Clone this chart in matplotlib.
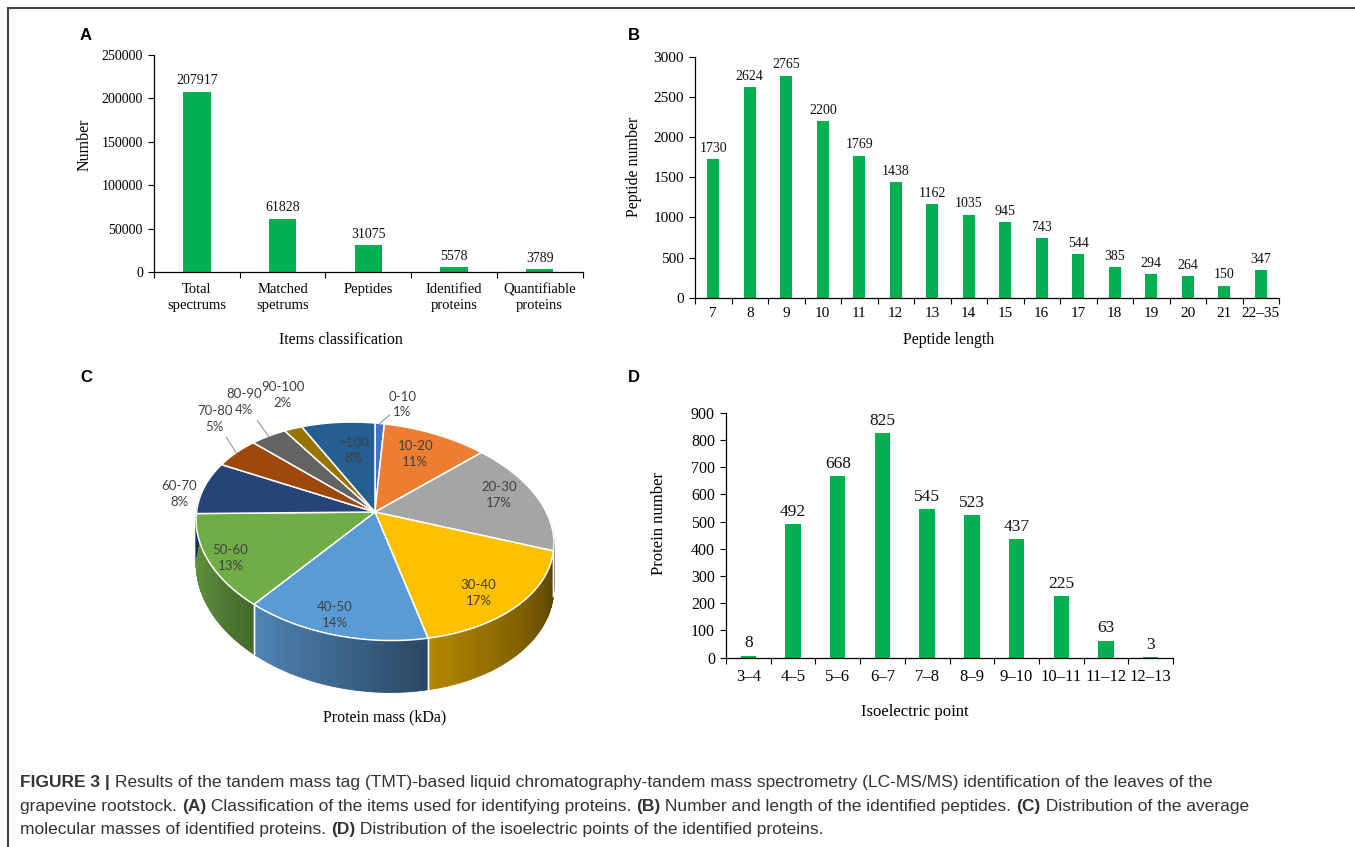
import numpy as np
import matplotlib
matplotlib.use('Agg')
import matplotlib.pyplot as plt
from matplotlib.patches import Polygon
import matplotlib.colors as mcolors

W, H = 1355, 847

# ---- data ----
# A: items used for identifying proteins
items = ['Total\nspectrums', 'Matched\nspetrums', 'Peptides', 'Identified\nproteins', 'Quantifiable\nproteins']
item_counts = [207917, 61828, 31075, 5578, 3789]

# B: peptide length distribution
pep_lengths = ['7', '8', '9', '10', '11', '12', '13', '14', '15', '16', '17', '18', '19', '20', '21', '22–35']
pep_counts = [1730, 2624, 2765, 2200, 1769, 1438, 1162, 1035, 945, 743, 544, 385, 294, 264, 150, 347]

# C: protein mass (kDa) distribution, percent
mass_bins = ['0-10', '10-20', '20-30', '30-40', '40-50', '50-60', '60-70', '70-80', '80-90', '90-100', '>100']
mass_pct = [1, 11, 17, 17, 14, 13, 8, 5, 4, 2, 8]

# D: isoelectric point distribution
pi_bins = ['3–4', '4–5', '5–6', '6–7', '7–8', '8–9', '9–10', '10–11', '11–12', '12–13']
pi_counts = [8, 492, 668, 825, 545, 523, 437, 225, 63, 3]

# ---- style ----
GREEN = '#00B050'
SERIF = ['Liberation Serif', 'DejaVu Serif']
SANS = ['Liberation Sans', 'DejaVu Sans']
pie_colors = ['#4472C4', '#ED7D31', '#A5A5A5', '#FFC000', '#5B9BD5', '#70AD47',
              '#264478', '#9E480E', '#636363', '#997300', '#255E91']
label_r = [1.3, 0.7, 0.78, 0.82, 0.87, 0.89, 1.12, 1.38, 1.45, 1.43, 0.65]
label_dang = [-6.6, 2, 3, -5.5, -2, 2, 5, -9.4, -5, -5.7, -2.5]
leader = [True, False, False, False, False, False, False, True, True, False, False]

plt.rcParams['font.family'] = SERIF

fig = plt.figure(figsize=(W / 100, H / 100), dpi=100)
bg = fig.add_axes([0, 0, 1, 1])
bg.set_xlim(0, W)
bg.set_ylim(H, 0)
bg.axis('off')


def bar_panel(box, cats, vals, ymax, ystep, xlabel, ylabel, xlab_pos, ylab_pos,
              width, tick_fs, cat_fs, val_fs, lab_fs, cat_pad):
    left, top, right, bottom = box
    ax = fig.add_axes([left / W, 1 - bottom / H, (right - left) / W, (bottom - top) / H])
    ax.patch.set_visible(False)
    pos = np.arange(len(cats))
    ax.bar(pos, vals, width=width, color=GREEN, zorder=2)
    for p, v in zip(pos, vals):
        ax.annotate(str(v), (p, v), xytext=(0, 3), textcoords='offset points',
                    ha='center', va='bottom', fontsize=val_fs, color='#111111')
    ax.set_xlim(-0.5, len(cats) - 0.5)
    ax.set_ylim(0, ymax)
    ax.set_yticks(np.arange(0, ymax + 1, ystep))
    ax.set_xticks(np.arange(len(cats) + 1) - 0.5)
    ax.set_xticklabels([])
    ax.set_xticks(pos, minor=True)
    ax.set_xticklabels(cats, minor=True, fontsize=cat_fs, linespacing=1.25)
    ax.tick_params(axis='x', which='major', length=4, width=0.8, direction='out')
    ax.tick_params(axis='x', which='minor', length=0, pad=cat_pad)
    ax.tick_params(axis='y', length=4, width=0.8, direction='out', labelsize=tick_fs, pad=4)
    for s in ['top', 'right']:
        ax.spines[s].set_visible(False)
    for s in ['left', 'bottom']:
        ax.spines[s].set_linewidth(0.9)
    ax.set_xlabel(xlabel, fontsize=lab_fs)
    ax.set_ylabel(ylabel, fontsize=lab_fs)
    ax.xaxis.set_label_coords((xlab_pos[0] - left) / (right - left), (bottom - xlab_pos[1]) / (bottom - top))
    ax.xaxis.label.set_va('center')
    ax.yaxis.set_label_coords((ylab_pos[0] - left) / (right - left), (bottom - ylab_pos[1]) / (bottom - top))
    ax.yaxis.label.set_va('center')
    return ax


bar_panel((154, 55, 582.5, 272.3), items, item_counts, 250000, 50000,
          'Items classification', 'Number', (341, 340), (85, 145),
          0.32, 10, 10.5, 10, 11.5, 8)
bar_panel((695, 56.7, 1279, 297.7), pep_lengths, pep_counts, 3000, 500,
          'Peptide length', 'Peptide number', (949, 340), (634, 167),
          0.33, 11, 11, 10, 11.5, 7)
bar_panel((726, 412.7, 1173, 657.7), pi_bins, pi_counts, 900, 100,
          'Isoelectric point', 'Protein number', (915, 712), (659, 523),
          0.345, 11.5, 12, 12.5, 12, 8)

# ---- C: 3D-looking pie drawn in pixel space ----
PCX, PCY, PA, PB, PK, PS, PD = 375, 512, 176, 105, 0.18, 12, 42.6


def pie_xy(r, t):
    u = r * np.cos(np.radians(t))
    v = r * np.sin(np.radians(t))
    f = 1 / (1 + PK * v)
    return PCX + PA * u * f, PCY - PB * v * f + PS * u, f


def shade(c, k):
    rgb = np.array(mcolors.to_rgb(c))
    return tuple(np.clip(rgb * k, 0, 1))


cum = np.concatenate([[0], np.cumsum(mass_pct)]) / sum(mass_pct)
th1 = 90 - cum[:-1] * 360
th2 = 90 - cum[1:] * 360

# side walls
x_left, _, _ = pie_xy(1, 180)
x_right, _, _ = pie_xy(1, 0)
for i in range(len(mass_pct)):
    lo, hi = max(th2[i], -188), min(th1[i], 3)
    if lo >= hi:
        continue
    ts = np.linspace(lo, hi, max(int(hi - lo), 2) + 1)
    for j in range(len(ts) - 1):
        xa, ya, fa = pie_xy(1, ts[j])
        xb, yb, fb = pie_xy(1, ts[j + 1])
        ws = (ts[j] - lo) / (hi - lo)
        wg = np.clip((xa - x_left) / (x_right - x_left), 0, 1)
        k = 0.9 - 0.25 * ws - 0.3 * wg
        col = shade(pie_colors[i], k)
        quad = [(xa, ya), (xb, yb), (xb, yb + PD * fb), (xa, ya + PD * fa)]
        bg.add_patch(Polygon(quad, closed=True, facecolor=col, edgecolor=col, lw=0.6, zorder=2))
for t in np.concatenate([th1, th2]):
    if -168 < t < -12:
        xa, ya, fa = pie_xy(1, t)
        bg.plot([xa, xa], [ya, ya + PD * fa], color='white', lw=1.0, zorder=3)

# top faces
for i in range(len(mass_pct)):
    ts = np.linspace(th1[i], th2[i], max(int(abs(th1[i] - th2[i]) / 0.5), 2) + 1)
    pts = [(PCX, PCY)] + [pie_xy(1, t)[:2] for t in ts]
    bg.add_patch(Polygon(pts, closed=True, facecolor=pie_colors[i], edgecolor='white',
                         lw=1.1, joinstyle='round', zorder=4))

# labels
for i, (name, pct) in enumerate(zip(mass_bins, mass_pct)):
    mid = (th1[i] + th2[i]) / 2
    lx, ly, _ = pie_xy(label_r[i], mid + label_dang[i])
    bg.text(lx, ly, f'{name}\n{pct}%', ha='center', va='center', fontsize=9.5,
            color='#404040', family=['Lato', 'DejaVu Sans'], linespacing=1.35, zorder=6)
    if leader[i]:
        sx, sy, _ = pie_xy(1.0, mid)
        ex, ey = lx + 0.55 * (sx - lx), ly + 0.55 * (sy - ly)
        bg.plot([sx, ex], [sy, ey], color='#8c8c8c', lw=0.7, zorder=5)

bg.text(385, 717, 'Protein mass (kDa)', ha='center', va='center', fontsize=11.5, family=SERIF)

# ---- panel letters ----
for letter, (px, py) in zip('ABCD', [(86, 35), (634, 35), (86, 378), (634, 377)]):
    bg.text(px, py, letter, ha='center', va='center', fontsize=12, fontweight='bold', family=SANS)

# ---- frame ----
bg.plot([7.5, 7.5, W], [H, 8, 8], color='#444444', lw=1.5, solid_joinstyle='miter', zorder=1)

# ---- caption ----
caption = [
    [('FIGURE 3 | ', True),
     ('Results of the tandem mass tag (TMT)-based liquid chromatography-tandem mass spectrometry '
      '(LC-MS/MS) identification of the leaves of the', False)],
    [('grapevine rootstock. ', False), ('(A)', True),
     (' Classification of the items used for identifying proteins. ', False), ('(B)', True),
     (' Number and length of the identified peptides. ', False), ('(C)', True),
     (' Distribution of the average', False)],
    [('molecular masses of identified proteins. ', False), ('(D)', True),
     (' Distribution of the isoelectric points of the identified proteins.', False)],
]
renderer = fig.canvas.get_renderer()
for line, base in zip(caption, [787, 811, 834]):
    x = 20
    for txt, bold in line:
        t = bg.text(x, base, txt, ha='left', va='baseline', fontsize=12.5,
                    fontweight='bold' if bold else 'normal', family=SANS, color='#333333')
        bb = t.get_window_extent(renderer)
        x += bb.width

fig.savefig('out.png', dpi=100)
